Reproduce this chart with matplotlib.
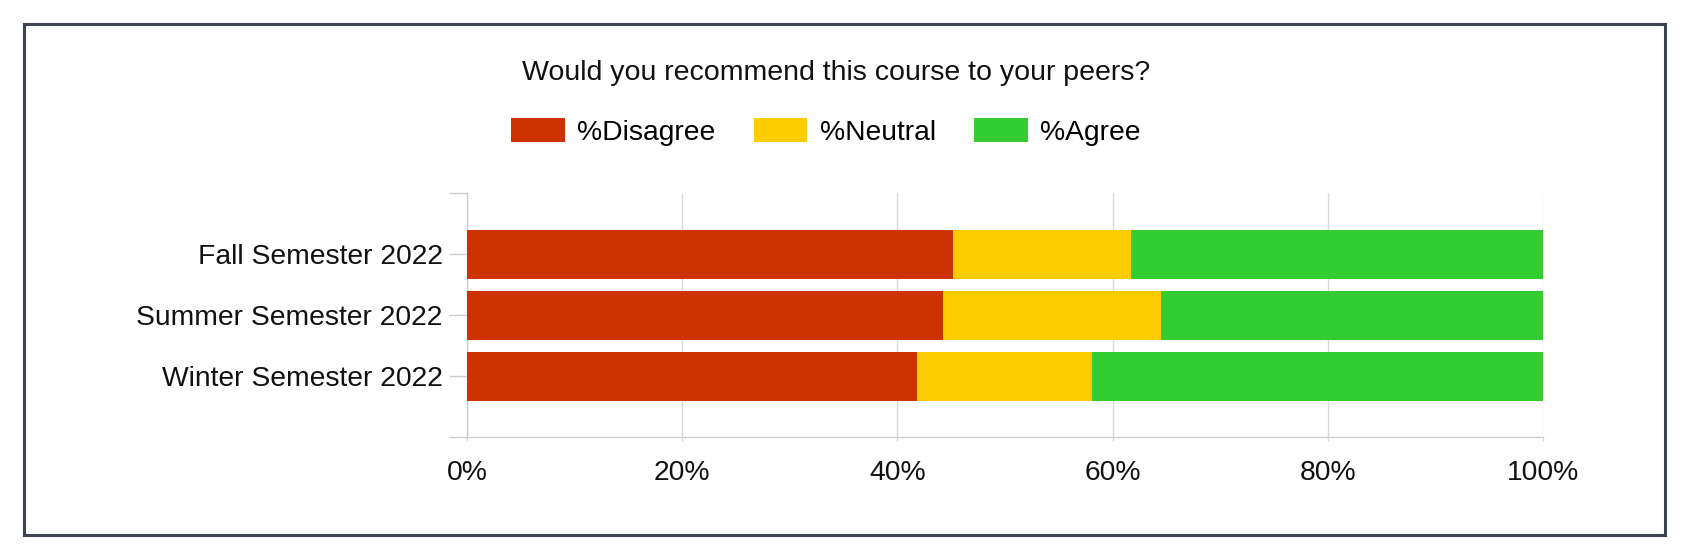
import matplotlib.pyplot as plt
from matplotlib.patches import Rectangle
from matplotlib.ticker import PercentFormatter

plt.rcParams['font.family'] = ['Liberation Sans', 'DejaVu Sans']

semesters = ['Fall Semester 2022', 'Summer Semester 2022', 'Winter Semester 2022']
disagree = [45.2, 44.2, 41.8]
neutral = [16.5, 20.3, 16.3]
agree = [38.3, 35.5, 41.9]

series_names = ['%Disagree', '%Neutral', '%Agree']
colors = ['#cc3300', '#ffcc00', '#33cc33']

fig = plt.figure(figsize=(16.87, 5.54), dpi=100)
ax = fig.add_axes([467 / 1687, 1 - 437.3 / 554, 1076 / 1687, 244 / 554])

ypos = list(range(len(semesters)))
left = [0] * len(semesters)
for name, vals, col in zip(series_names, [disagree, neutral, agree], colors):
    ax.barh(ypos, vals, left=left, height=0.8, color=col, label=name, zorder=3)
    left = [l + v for l, v in zip(left, vals)]

ax.set_xlim(0, 100)
ax.set_ylim(3, -1)
ax.xaxis.set_major_formatter(PercentFormatter(decimals=0))
ax.set_xticks([0, 20, 40, 60, 80, 100])
ax.set_yticks([-1, 0, 1, 2, 3])
ax.set_yticklabels([''] + semesters + [''])

ax.grid(axis='x', color='#d9d9d9', linewidth=1, zorder=0)
for s in ['top', 'right']:
    ax.spines[s].set_visible(False)
for s in ['left', 'bottom']:
    ax.spines[s].set_color('#cccccc')
    ax.spines[s].set_linewidth(1)

ax.tick_params(axis='y', length=13, color='#cccccc', width=1, pad=4.5,
               labelsize=20.3, labelcolor='#111111')
ax.tick_params(axis='x', length=3, color='#d9d9d9', width=1, pad=13,
               labelsize=20.3, labelcolor='#111111')

fig.text(836 / 1687, 1 - 80 / 554, 'Would you recommend this course to your peers?',
         ha='center', va='baseline', fontsize=20.5, color='#111111')

fig.legend(loc='center', bbox_to_anchor=(826 / 1687, 1 - 132 / 554), ncol=3,
           frameon=False, fontsize=20.3, handlelength=1.9, handleheight=0.9,
           handletextpad=0.45, columnspacing=1.35, borderaxespad=0, borderpad=0)

fig.patches.append(Rectangle((24 / 1687, 1 - 535 / 554), 1641 / 1687, 511 / 554,
                             transform=fig.transFigure, fill=False,
                             edgecolor='#3b4250', linewidth=2.2))

fig.savefig('out.png', dpi=100)
